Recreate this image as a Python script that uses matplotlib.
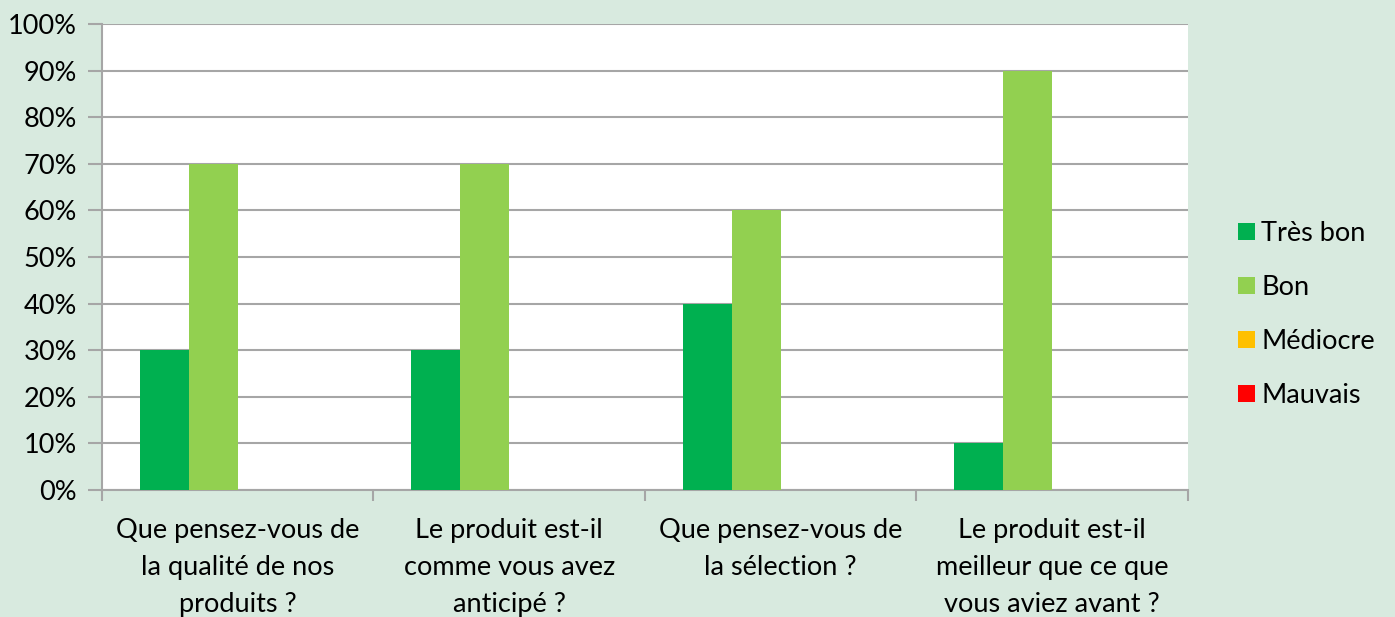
import numpy as np
import matplotlib.pyplot as plt
from matplotlib.ticker import PercentFormatter

categories = ["Que pensez-vous de\nla qualité de nos\nproduits ?",
              "Le produit est-il\ncomme vous avez\nanticipé ?",
              "Que pensez-vous de\nla sélection ?",
              "Le produit est-il\nmeilleur que ce que\nvous aviez avant ?"]
series = ["Très bon", "Bon", "Médiocre", "Mauvais"]
values = [[30, 30, 40, 10],
          [70, 70, 60, 90],
          [0, 0, 0, 0],
          [0, 0, 0, 0]]
colors = ["#00b050", "#92d050", "#ffc000", "#ff0000"]

plt.rcParams['font.family'] = ['Lato', 'DejaVu Sans']
bg = "#d8eadf"
fig = plt.figure(figsize=(13.95, 6.17), dpi=100, facecolor=bg)
ax = fig.add_axes([0.0731, 0.2058, 0.7785, 0.7552])
ax.set_facecolor("white")

x = np.arange(len(categories))
w = 0.18
for i, (name, vals) in enumerate(zip(series, values)):
    ax.bar(x + (i - 1.5) * w, vals, w, color=colors[i], label=name, zorder=3)

ax.set_xlim(-0.5, len(categories) - 0.5)
ax.set_ylim(0, 100)
ax.set_yticks(np.arange(0, 101, 10))
ax.yaxis.set_major_formatter(PercentFormatter(decimals=0))
ax.grid(axis='y', color="#a6a6a6", linewidth=1.5, zorder=0)
ax.set_xticks(x)
ax.set_xticklabels(categories, fontsize=19.5, linespacing=1.6)
ax.set_xticks(np.arange(-0.5, len(categories)), minor=True)
ax.tick_params(axis='x', which='major', length=0, pad=20)
ax.tick_params(axis='x', which='minor', length=8, color="#a6a6a6", width=1.5)
ax.tick_params(axis='y', length=10, color="#a6a6a6", width=1.5, labelsize=19.5, pad=8)
for s in ['top', 'right']:
    ax.spines[s].set_visible(False)
for s in ['left', 'bottom']:
    ax.spines[s].set_color("#a6a6a6")
    ax.spines[s].set_linewidth(1.5)

leg = ax.legend(loc='center left', bbox_to_anchor=(1.024, 0.376), frameon=False,
                fontsize=19.5, handlelength=0.6, handleheight=0.6,
                labelspacing=1.07, handletextpad=0.25)

fig.savefig("out.png", dpi=100, facecolor=bg)
